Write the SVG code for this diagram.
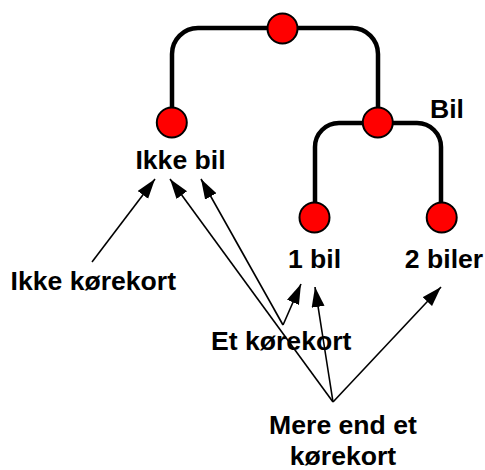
<svg xmlns="http://www.w3.org/2000/svg" width="485" height="470" viewBox="0 0 485 470">
<style>
.tree{fill:none;stroke:#000;stroke-width:4.5}
.arr{fill:none;stroke:#000;stroke-width:1.6;marker-end:url(#ah)}
.node{fill:#ff0000;stroke:#000;stroke-width:2}
text{font-family:"Liberation Sans",Arial,Helvetica,sans-serif;font-weight:bold;font-size:26.6px;fill:#000}
</style>
<defs>
<marker id="ah" markerUnits="userSpaceOnUse" markerWidth="22" markerHeight="14" refX="20" refY="6.5" orient="auto">
<path d="M0,0 L20,6.5 L0,13 z" fill="#000"/>
</marker>
</defs>
<rect width="485" height="470" fill="#fff"/>
<g id="connectors">
<path class="tree" d="M172,122 V54 A26,26 0 0 1 198,28 H352 A26,26 0 0 1 378,54 V123"/>
<path class="tree" d="M315,217 V147 A24,24 0 0 1 339,123 H417 A24,24 0 0 1 441,147 V217"/>
<line class="arr" x1="92" y1="262" x2="155" y2="179"/>
<line class="arr" x1="333" y1="402" x2="170" y2="179"/>
<line class="arr" x1="283" y1="325" x2="201" y2="179"/>
<line class="arr" x1="283" y1="325" x2="301" y2="284"/>
<line class="arr" x1="333" y1="402" x2="315" y2="287"/>
<line class="arr" x1="333" y1="402" x2="441" y2="287"/>
</g>
<g id="root"><circle class="node" cx="282.5" cy="28.5" r="15"/></g>
<g id="ikke-bil"><circle class="node" cx="171.8" cy="122.5" r="15"/><text x="180.5" y="169" text-anchor="middle">Ikke bil</text></g>
<g id="bil"><circle class="node" cx="377.8" cy="122.5" r="15"/><text x="430" y="118">Bil</text></g>
<g id="en-bil"><circle class="node" cx="314.5" cy="217.5" r="15"/><text x="314.5" y="268" text-anchor="middle">1 bil</text></g>
<g id="to-biler"><circle class="node" cx="441.7" cy="217.5" r="15"/><text x="444" y="268" text-anchor="middle">2 biler</text></g>
<g id="ikke-korekort"><text x="10.5" y="290">Ikke kørekort</text></g>
<g id="et-korekort"><text x="211" y="350">Et kørekort</text></g>
<g id="mere-end-et"><text x="343" y="434" text-anchor="middle">Mere end et</text><text x="343" y="465" text-anchor="middle">kørekort</text></g>
</svg>
